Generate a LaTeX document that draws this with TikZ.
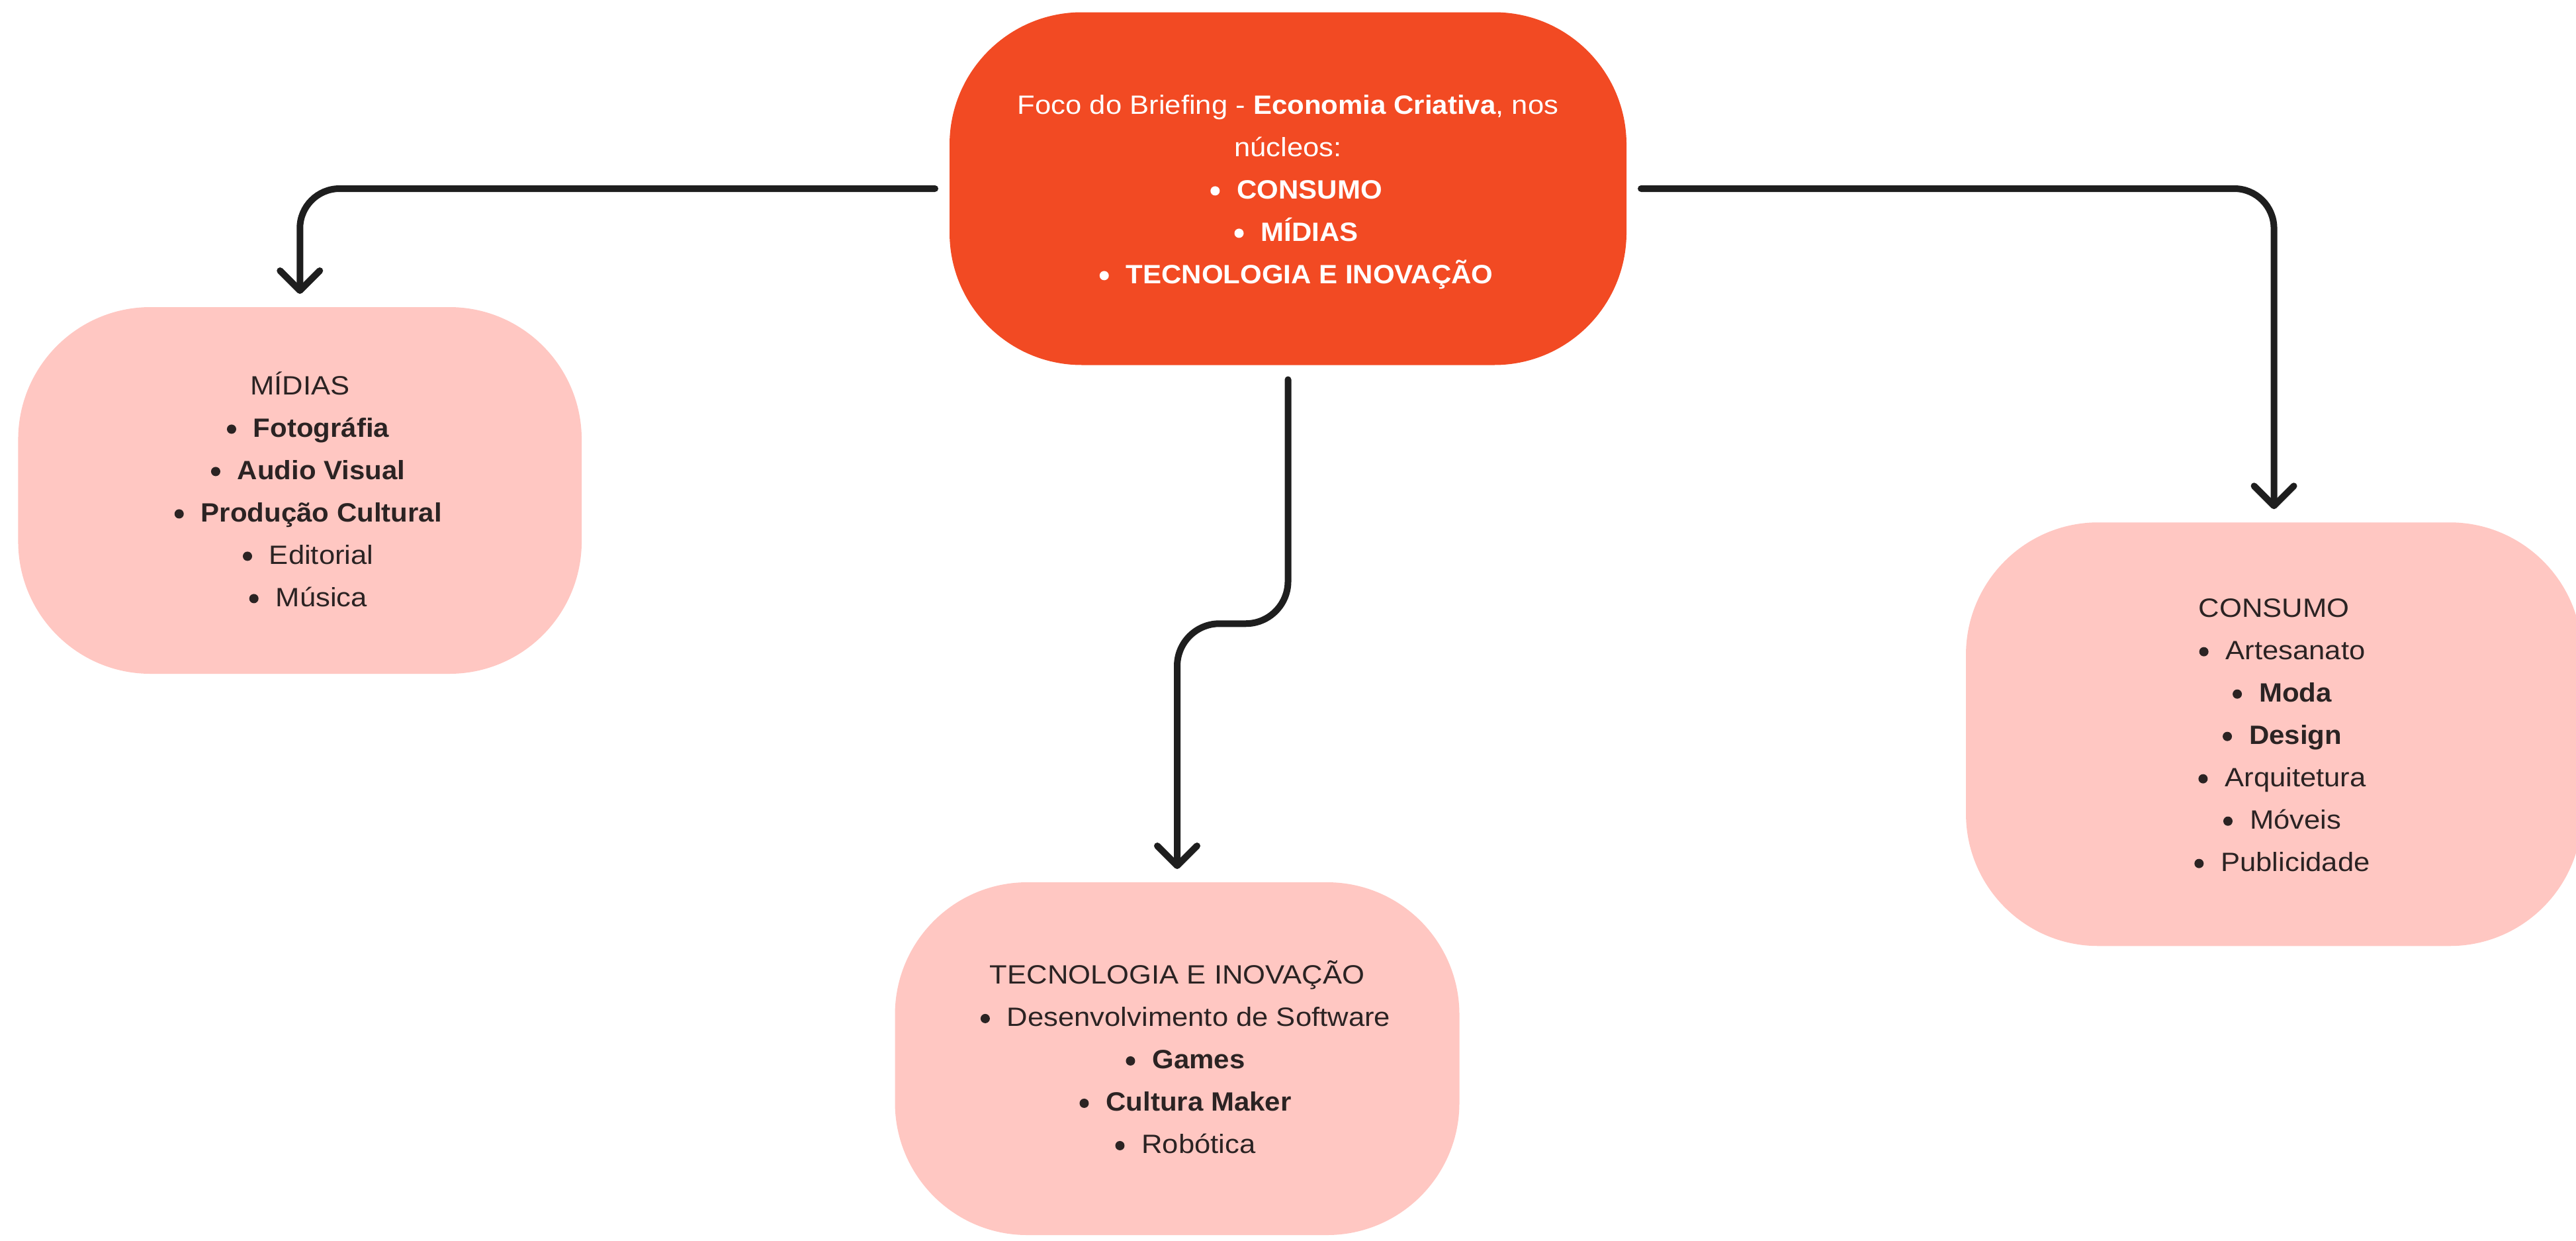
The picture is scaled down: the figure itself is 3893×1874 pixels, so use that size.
\documentclass[tikz,border=0pt]{standalone}
\usepackage{fontspec}
\setmainfont{Liberation Sans}[UprightFeatures={FakeStretch=1.09},BoldFeatures={FakeStretch=1.05}]
\usetikzlibrary{arrows.meta,calc}

\definecolor{hubfill}{HTML}{F24A23}
\definecolor{leaffill}{HTML}{FFC7C2}
\definecolor{inkline}{HTML}{1E1E1E}
\definecolor{inktext}{HTML}{2B2323}

% every text line gets the same 16pt line box
\newcommand\lstrut{\rule[-4.25pt]{0pt}{16pt}}
% bulleted entry: dot, indent, then the entry text
\newcommand\dotitem[2]{\lstrut\makebox[16.25pt][l]{\hspace{6.25pt}\tikz[baseline=0pt]\fill[#1] (0pt,2.9pt) circle[radius=1.75pt];}#2}

\begin{document}
\begin{tikzpicture}[x=0.25pt,y=-0.25pt,
  box/.style={rounded corners=50pt, inner sep=0pt, outer sep=0pt, align=center,
    font=\fontsize{10pt}{16pt}\selectfont},
  hubbox/.style={box, fill=hubfill, text=white},
  leafbox/.style={box, fill=leaffill, text=inktext},
  conn/.style={draw=inkline, line width=2.5pt, line cap=round, line join=round,
    -{Straight Barb[length=7.5pt, width=15pt, line cap=round, line join=round]}}]

\fill[white] (0,0) rectangle (3893,1874);
\useasboundingbox (0,0) rectangle (3893,1874);

% central topic
\node[hubbox, minimum width=255.75pt, minimum height=133.25pt] (hub) at (1946.5,285) {%
  \lstrut Foco do Briefing - \textbf{Economia Criativa}, nos\\
  \lstrut núcleos:\\
  \dotitem{white}{\textbf{CONSUMO}}\\
  \dotitem{white}{\textbf{MÍDIAS}}\\
  \dotitem{white}{\textbf{TECNOLOGIA E INOVAÇÃO}}};

% branches
\node[leafbox, minimum width=212.9pt, minimum height=138.5pt] (midias) at (453.25,741) {%
  \lstrut MÍDIAS\\
  \dotitem{inktext}{\textbf{Fotográfia}}\\
  \dotitem{inktext}{\textbf{Audio Visual}}\\
  \dotitem{inktext}{\textbf{Produção Cultural}}\\
  \dotitem{inktext}{Editorial}\\
  \dotitem{inktext}{Música}};

\node[leafbox, minimum width=213.25pt, minimum height=133.25pt] (tec) at (1779,1599.5) {%
  \lstrut TECNOLOGIA E INOVAÇÃO\\
  \dotitem{inktext}{Desenvolvimento de Software}\\
  \dotitem{inktext}{\textbf{Games}}\\
  \dotitem{inktext}{\textbf{Cultura Maker}}\\
  \dotitem{inktext}{Robótica}};

\node[leafbox, minimum width=232.75pt, minimum height=160pt] (consumo) at (3436.5,1109.25) {%
  \lstrut CONSUMO\\
  \dotitem{inktext}{Artesanato}\\
  \dotitem{inktext}{\textbf{Moda}}\\
  \dotitem{inktext}{\textbf{Design}}\\
  \dotitem{inktext}{Arquitetura}\\
  \dotitem{inktext}{Móveis}\\
  \dotitem{inktext}{Publicidade}};

% connectors
\draw[conn, rounded corners=15pt] ([xshift=-5.5pt]hub.west) -| ([yshift=5pt]midias.north);
\draw[conn, rounded corners=15pt] ([xshift=5.5pt]hub.east) -| ([yshift=5pt]consumo.north);
\coordinate (kink) at ($(hub.south)!0.5!(tec.north)$);
\draw[conn, rounded corners=16pt] ([yshift=-5.5pt]hub.south) -- (hub.south |- kink)
  -- (tec.north |- kink) -- ([yshift=5pt]tec.north);
\end{tikzpicture}
\end{document}
